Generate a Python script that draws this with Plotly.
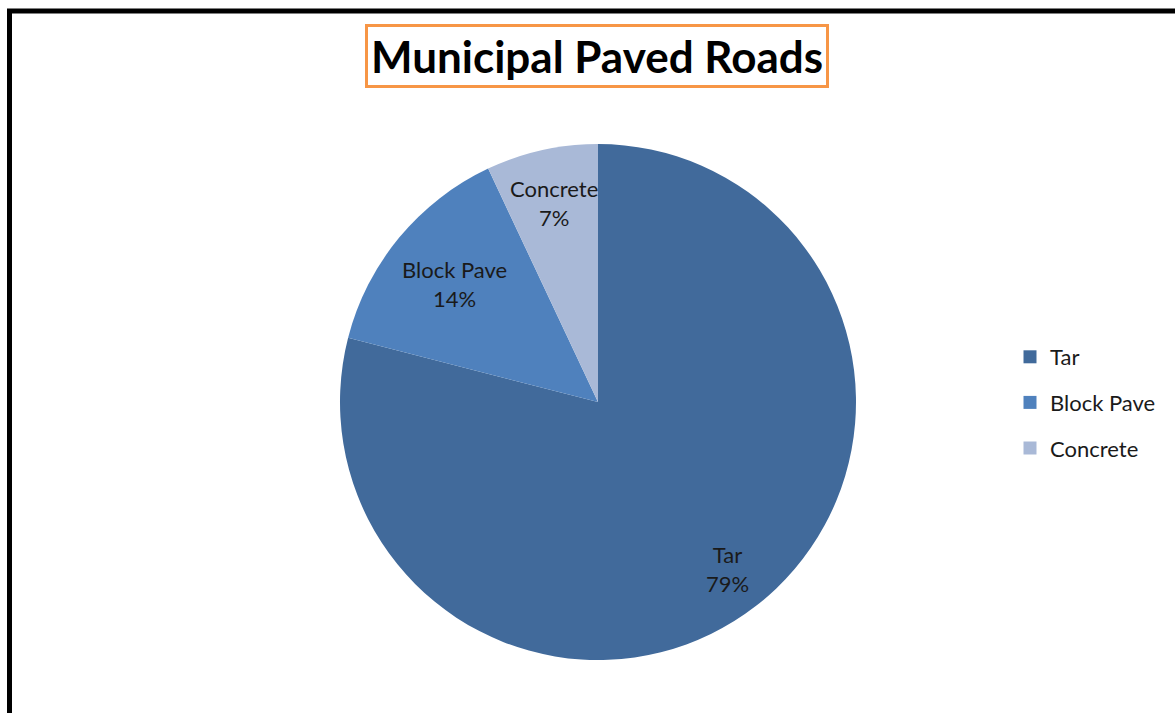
import math
import plotly.graph_objects as go

# Road surface breakdown
categories = ["Tar", "Block Pave", "Concrete"]
shares = [79, 14, 7]
colors = ["#416A9B", "#4F81BD", "#A9B9D7"]
# radial placement of each slice label, as a fraction of the pie radius
label_radius = [0.82, 0.72, 0.79]

W, H = 1175, 713
FONT = "Lato"
CX, CY, R = 598, 402, 258  # pie centre and radius in pixels

fig = go.Figure()

fig.add_trace(go.Pie(
    labels=categories,
    values=shares,
    sort=False,
    direction="clockwise",
    rotation=0,
    marker=dict(colors=colors, line=dict(width=0)),
    textinfo="none",
    hoverinfo="label+percent",
    showlegend=False,
    domain=dict(x=[(CX - R) / W, (CX + R) / W],
                y=[(H - CY - R) / H, (H - CY + R) / H]),
))

# Slice labels placed at the mid-angle of each slice
annotations = []
total = sum(shares)
cum = 0
for name, v, frac in zip(categories, shares, label_radius):
    mid = (cum + v / 2) / total * 2 * math.pi
    cum += v
    px = CX + frac * R * math.sin(mid)
    py = CY - frac * R * math.cos(mid)
    annotations.append(dict(
        text=f"{name}<br>{round(v / total * 100)}%",
        x=px / W, y=1 - py / H, xref="paper", yref="paper",
        xanchor="center", yanchor="middle", showarrow=False,
        font=dict(family=FONT, size=22, color="#1a1a1a"),
    ))

# Legend entries, one per category so they can be spaced apart
for i, (name, col) in enumerate(zip(categories, colors)):
    fig.add_trace(go.Scatter(
        x=[None], y=[None], mode="markers", name=name,
        legendgroup=f"g{i}",
        marker=dict(symbol="square", size=13, color=col),
    ))

annotations.append(dict(
    text="<b>Municipal Paved Roads</b>",
    x=597 / W, y=1 - 56 / H, xref="paper", yref="paper",
    xanchor="center", yanchor="middle", showarrow=False,
    font=dict(family=FONT, size=44, color="black"),
    bordercolor="#F79646", borderwidth=3, borderpad=3,
    bgcolor="white",
))

fig.update_layout(
    width=W, height=H,
    margin=dict(l=0, r=0, t=0, b=0),
    paper_bgcolor="white",
    plot_bgcolor="white",
    xaxis=dict(visible=False),
    yaxis=dict(visible=False),
    legend=dict(
        x=1010 / W, y=1 - 336 / H, xanchor="left", yanchor="top",
        font=dict(family=FONT, size=22, color="#1a1a1a"),
        tracegroupgap=14,
        itemwidth=30,
        bgcolor="rgba(0,0,0,0)",
    ),
    annotations=annotations,
    shapes=[dict(
        type="rect", xref="paper", yref="paper",
        x0=9.5 / W, x1=1.2, y0=-0.2, y1=1 - 11 / H,
        line=dict(color="black", width=5),
    )],
)

fig.write_html("out.html")
